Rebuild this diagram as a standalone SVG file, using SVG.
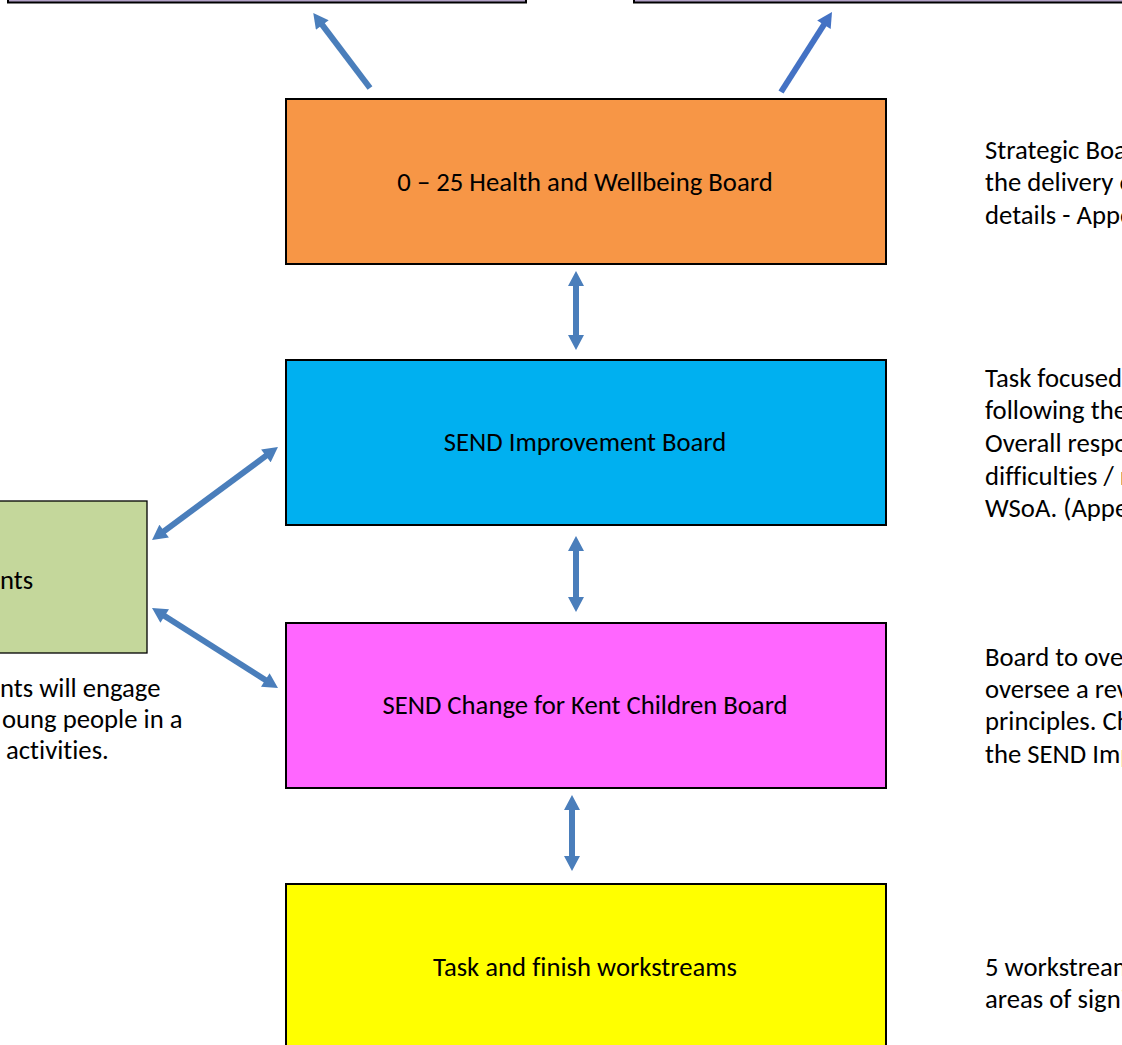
<svg xmlns="http://www.w3.org/2000/svg" width="1122" height="1045" viewBox="0 0 1122 1045">
<defs>
<style>
.box{stroke:#000;stroke-width:2}
.t{font-family:Carlito,Lato,"Liberation Sans",sans-serif;font-size:26.7px;fill:#000;font-variant-ligatures:none}
.c{text-anchor:middle}
.arr{stroke:#4a7ebb;stroke-width:6;fill:none}
</style>
<marker id="ah" markerUnits="userSpaceOnUse" markerWidth="16" markerHeight="16" viewBox="0 0 15 16" refX="2" refY="8" orient="auto-start-reverse">
<path d="M0,0 L15,8 L0,16 z" fill="#4a7ebb"/>
</marker>
<marker id="ah2" markerUnits="userSpaceOnUse" markerWidth="16" markerHeight="16" viewBox="0 0 15 16" refX="2" refY="8" orient="auto">
<path d="M0,0 L15,8 L0,16 z" fill="#4472c4"/>
</marker>
</defs>
<rect width="1122" height="1045" fill="#fff"/>

<g id="top-left-box"><rect class="box" x="8" y="-20" width="518" height="22.5" fill="#b3a2c7"/></g>
<g id="top-right-box"><rect class="box" x="634" y="-20" width="500" height="22.5" fill="#b3a2c7"/></g>

<g id="hwb-board">
<rect class="box" x="286" y="99" width="600" height="165" fill="#f79646"/>
<text class="t c" x="585" y="191">0 – 25 Health and Wellbeing Board</text>
</g>
<g id="send-improvement-board">
<rect class="box" x="286" y="360" width="600" height="165" fill="#00b0f0"/>
<text class="t c" x="585" y="451">SEND Improvement Board</text>
</g>
<g id="send-change-board">
<rect class="box" x="286" y="623" width="600" height="165" fill="#ff66ff"/>
<text class="t c" x="585" y="714">SEND Change for Kent Children Board</text>
</g>
<g id="task-finish">
<rect class="box" x="286" y="884" width="600" height="180" fill="#ffff00"/>
<text class="t c" x="585" y="976">Task and finish workstreams</text>
</g>
<g id="left-box">
<rect x="-20" y="501" width="167" height="152" fill="#c4d79b" stroke="#000" stroke-width="1.3"/>
<text class="t" x="0" y="589">nts</text>
</g>
<g id="left-note">
<text class="t" x="0" y="697">nts will engage</text>
<text class="t" x="2" y="728">oung people in a</text>
<text class="t" x="6" y="759">activities.</text>
</g>
<g id="note-hwb">
<text class="t" x="985" y="159">Strategic Boa</text>
<text class="t" x="985" y="191">the delivery o</text>
<text class="t" x="985" y="224">details - Appe</text>
</g>
<g id="note-improvement">
<text class="t" x="985" y="387">Task focused</text>
<text class="t" x="985" y="419">following the</text>
<text class="t" x="985" y="452">Overall respo</text>
<text class="t" x="985" y="485">difficulties / r</text>
<text class="t" x="985" y="517">WSoA. (Appe</text>
</g>
<g id="note-change">
<text class="t" x="985" y="666">Board to ove</text>
<text class="t" x="985" y="698">oversee a rev</text>
<text class="t" x="985" y="730">principles. Ch</text>
<text class="t" x="985" y="763">the SEND Imp</text>
</g>
<g id="note-task">
<text class="t" x="985" y="976">5 workstream</text>
<text class="t" x="985" y="1008">areas of signi</text>
</g>

<g id="connectors">
<line class="arr" x1="370" y1="88" x2="321.1" y2="23.4" marker-end="url(#ah)"/>
<line class="arr" x1="781" y1="92" x2="825" y2="23" style="stroke:#4472c4" marker-end="url(#ah2)"/>
<line class="arr" x1="576" y1="284" x2="576" y2="337" marker-start="url(#ah)" marker-end="url(#ah)"/>
<line class="arr" x1="576" y1="549" x2="576" y2="599" marker-start="url(#ah)" marker-end="url(#ah)"/>
<line class="arr" x1="572" y1="808" x2="572" y2="858" marker-start="url(#ah)" marker-end="url(#ah)"/>
<line class="arr" x1="162.5" y1="532.3" x2="267.5" y2="454.7" marker-start="url(#ah)" marker-end="url(#ah)"/>
<line class="arr" x1="163" y1="615" x2="267" y2="681" marker-start="url(#ah)" marker-end="url(#ah)"/>
</g>
</svg>
